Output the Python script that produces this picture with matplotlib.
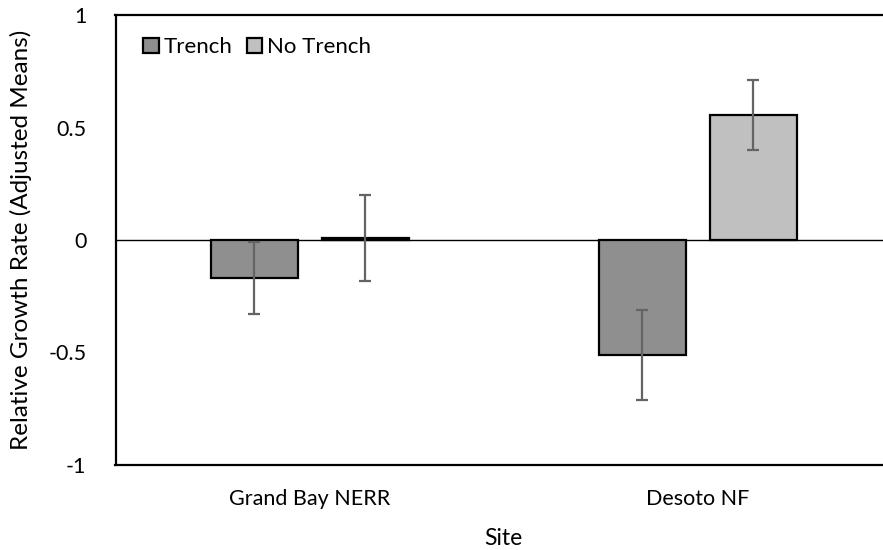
import matplotlib
matplotlib.use("Agg")
import matplotlib.pyplot as plt
import numpy as np

plt.rcParams['font.family'] = ['Lato', 'DejaVu Sans']

sites = ["Grand Bay NERR", "Desoto NF"]
series = ["Trench", "No Trench"]
trench = [-0.17, -0.51]
trench_err = [0.16, 0.20]
no_trench = [0.01, 0.555]
no_trench_err = [0.19, 0.155]
colors = ["#8f8f8f", "#c0c0c0"]
yticks = [-1, -0.5, 0, 0.5, 1]
ytick_labels = ["-1", "-0.5", "0", "0.5", "1"]

W, H = 883, 550
fig = plt.figure(figsize=(W / 100, H / 100), dpi=100)
left, right, bottom, top = 115.5, 892, 465, 15
ax = fig.add_axes([left / W, (H - bottom) / H, (right - left) / W, (bottom - top) / H])

x = np.arange(len(sites))
bw = 0.224
off = 0.143
ekw = dict(ecolor="#646464", elinewidth=1.6, capthick=1.6)
ax.bar(x - off, trench, bw, color=colors[0], edgecolor="black", linewidth=1.6,
       yerr=trench_err, capsize=4.5, error_kw=ekw, label=series[0], zorder=2)
ax.bar(x + off, no_trench, bw, color=colors[1], edgecolor="black", linewidth=1.6,
       yerr=no_trench_err, capsize=4.5, error_kw=ekw, label=series[1], zorder=2)

ax.axhline(0, color="black", linewidth=1.0, zorder=1)
ax.set_xlim(-0.5, 1.5)
ax.set_ylim(-1, 1)
ax.set_yticks(yticks)
ax.set_yticklabels(ytick_labels)
ax.set_xticks(x)
ax.set_xticklabels(sites)
ax.tick_params(axis="both", length=0, labelsize=15.5, colors="black")
ax.tick_params(axis="y", pad=21)
ax.tick_params(axis="x", pad=17)
for s in ["left", "bottom", "top"]:
    ax.spines[s].set_linewidth(1.6)
ax.spines["right"].set_visible(False)

ax.set_xlabel("Site", fontsize=16.5, labelpad=14)
ax.set_ylabel("Relative Growth Rate (Adjusted Means)", fontsize=17.5, labelpad=12)

leg = ax.legend(loc="upper left", bbox_to_anchor=(0.01, 0.995), ncol=2, frameon=False,
                fontsize=16, handlelength=0.7, handleheight=0.7, handletextpad=0.2,
                columnspacing=0.65)

fig.savefig("out.png", dpi=100)
